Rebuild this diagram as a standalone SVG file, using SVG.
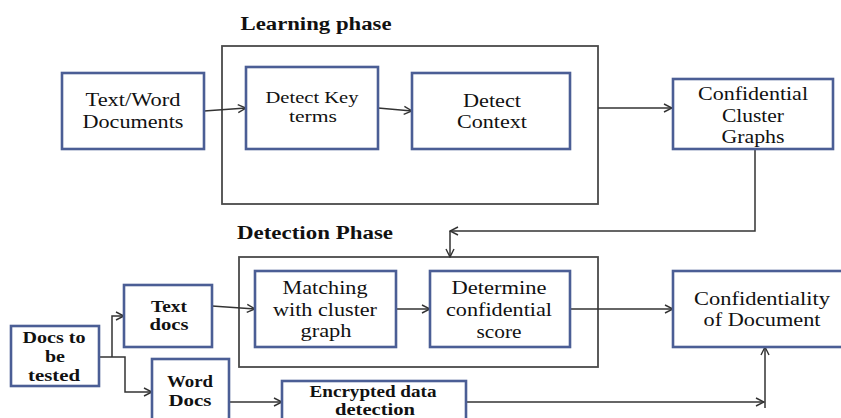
<svg xmlns="http://www.w3.org/2000/svg" width="841" height="418" viewBox="0 0 841 418">
<defs>
<marker id="arr" markerWidth="10" markerHeight="10" refX="9" refY="5" orient="auto" markerUnits="userSpaceOnUse">
<path d="M1,1 L9,5 L1,9" fill="none" stroke="#333" stroke-width="1.4"/>
</marker>
<style>
.node{fill:#fff;stroke:#4B5E95;stroke-width:2.6}
.phase{fill:none;stroke:#4a4a4a;stroke-width:1.8}
.conn{fill:none;stroke:#333;stroke-width:1.5;marker-end:url(#arr)}
text{font-family:"Liberation Serif","Times New Roman",serif;fill:#111;text-anchor:middle;font-size:18px}
.s{font-size:16px}
.b{font-weight:bold;font-size:17px}
.title{font-weight:bold;font-size:18px}
</style>
</defs>
<rect width="841" height="418" fill="#fff"/>

<g id="learning-phase">
<rect class="phase" x="222" y="46" width="376" height="158"/>
<text class="title" x="316" y="30" textLength="151" lengthAdjust="spacingAndGlyphs">Learning phase</text>
</g>
<g id="detection-phase">
<rect class="phase" x="239" y="257" width="359" height="110"/>
<text class="title" x="315" y="239" textLength="156" lengthAdjust="spacingAndGlyphs">Detection Phase</text>
</g>

<g id="connectors">
<line class="conn" x1="204" y1="111" x2="246" y2="108"/>
<line class="conn" x1="378" y1="108" x2="412" y2="111"/>
<line class="conn" x1="598" y1="108" x2="672" y2="108"/>
<path class="conn" d="M755,149 V231 H450"/>
<path class="conn" d="M450,231 V257"/>
<path class="conn" d="M99,357 H125 V392 H152"/>
<path class="conn" d="M112,357 V316 H124"/>
<line class="conn" x1="212" y1="306" x2="255" y2="309"/>
<line class="conn" x1="396" y1="309" x2="430" y2="309"/>
<line class="conn" x1="570" y1="309" x2="673" y2="309"/>
<line class="conn" x1="229" y1="402" x2="282" y2="402"/>
<line class="conn" x1="466" y1="402" x2="764" y2="402"/>
<path class="conn" d="M765,408 V347"/>
</g>

<g id="text-word-documents">
<rect class="node" x="62" y="73" width="142" height="76"/>
<text x="133" y="106" textLength="95" lengthAdjust="spacingAndGlyphs">Text/Word</text>
<text x="133" y="128" textLength="101" lengthAdjust="spacingAndGlyphs">Documents</text>
</g>
<g id="detect-key-terms">
<rect class="node" x="246" y="67" width="132" height="82"/>
<text class="s" x="312" y="103" textLength="93" lengthAdjust="spacingAndGlyphs">Detect Key</text>
<text class="s" x="313" y="122" textLength="48" lengthAdjust="spacingAndGlyphs">terms</text>
</g>
<g id="detect-context">
<rect class="node" x="412" y="73" width="158" height="76"/>
<text x="492" y="107" textLength="58" lengthAdjust="spacingAndGlyphs">Detect</text>
<text x="492" y="128" textLength="70" lengthAdjust="spacingAndGlyphs">Context</text>
</g>
<g id="confidential-cluster-graphs">
<rect class="node" x="673" y="79" width="160" height="70"/>
<text x="753" y="100" textLength="110" lengthAdjust="spacingAndGlyphs">Confidential</text>
<text x="753" y="122" textLength="62" lengthAdjust="spacingAndGlyphs">Cluster</text>
<text x="753" y="143" textLength="63" lengthAdjust="spacingAndGlyphs">Graphs</text>
</g>
<g id="matching-with-cluster-graph">
<rect class="node" x="255" y="271" width="141" height="76"/>
<text x="325" y="294" textLength="85" lengthAdjust="spacingAndGlyphs">Matching</text>
<text x="325" y="316" textLength="104" lengthAdjust="spacingAndGlyphs">with cluster</text>
<text x="326" y="337" textLength="51" lengthAdjust="spacingAndGlyphs">graph</text>
</g>
<g id="determine-confidential-score">
<rect class="node" x="430" y="271" width="140" height="76"/>
<text x="499" y="294" textLength="95" lengthAdjust="spacingAndGlyphs">Determine</text>
<text x="499" y="316" textLength="106" lengthAdjust="spacingAndGlyphs">confidential</text>
<text x="499" y="338" textLength="45" lengthAdjust="spacingAndGlyphs">score</text>
</g>
<g id="confidentiality-of-document">
<rect class="node" x="673" y="271" width="180" height="76"/>
<text x="762" y="305" textLength="136" lengthAdjust="spacingAndGlyphs">Confidentiality</text>
<text x="762" y="326" textLength="117" lengthAdjust="spacingAndGlyphs">of Document</text>
</g>
<g id="docs-to-be-tested">
<rect class="node" x="11" y="326" width="88" height="60"/>
<text class="b" x="54" y="343" textLength="63" lengthAdjust="spacingAndGlyphs">Docs to</text>
<text class="b" x="55" y="362" textLength="20" lengthAdjust="spacingAndGlyphs">be</text>
<text class="b" x="54" y="381" textLength="52" lengthAdjust="spacingAndGlyphs">tested</text>
</g>
<g id="text-docs">
<rect class="node" x="124" y="285" width="88" height="62"/>
<text class="b" x="169" y="312" textLength="36" lengthAdjust="spacingAndGlyphs">Text</text>
<text class="b" x="169" y="330" textLength="39" lengthAdjust="spacingAndGlyphs">docs</text>
</g>
<g id="word-docs">
<rect class="node" x="152" y="359" width="77" height="80"/>
<text class="b" x="190" y="387" textLength="46" lengthAdjust="spacingAndGlyphs">Word</text>
<text class="b" x="190" y="406" textLength="43" lengthAdjust="spacingAndGlyphs">Docs</text>
</g>
<g id="encrypted-data-detection">
<rect class="node" x="282" y="381" width="184" height="60"/>
<text class="b" x="373" y="397" textLength="127" lengthAdjust="spacingAndGlyphs">Encrypted data</text>
<text class="b" x="375" y="415" textLength="80" lengthAdjust="spacingAndGlyphs">detection</text>
</g>
</svg>
